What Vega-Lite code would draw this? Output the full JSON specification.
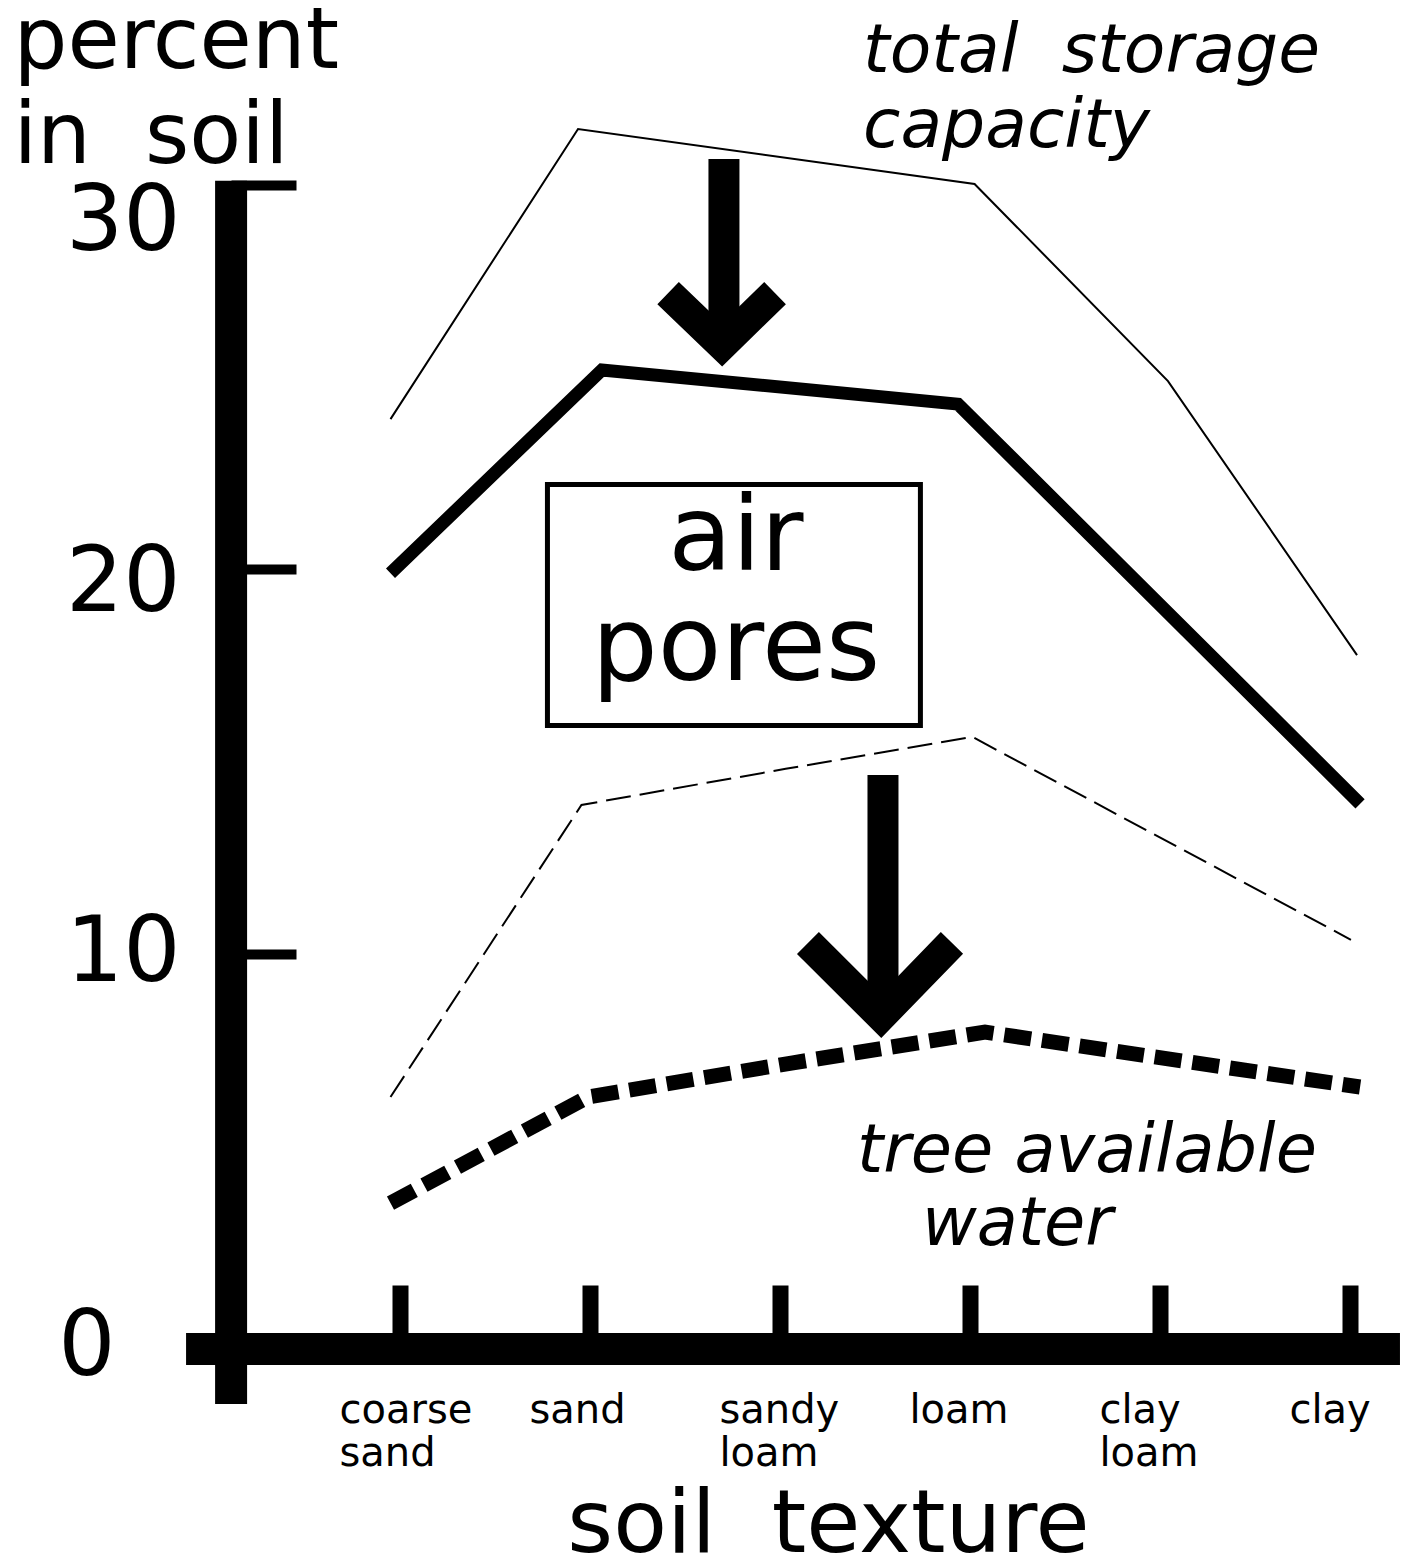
{
  "$schema": "https://vega.github.io/schema/vega-lite/v6.json",
  "width": 1410,
  "height": 1564,
  "autosize": "none",
  "padding": 0,
  "background": "white",
  "config": {"view": {"stroke": null}, "font": "DejaVu Sans"},
  "datasets": {
    "curves": [
      {"series": "total storage capacity", "x": 0.95, "y": 23.91},
      {"series": "total storage capacity", "x": 1.937, "y": 31.46},
      {"series": "total storage capacity", "x": 4.024, "y": 30.03},
      {"series": "total storage capacity", "x": 5.042, "y": 24.9},
      {"series": "total storage capacity", "x": 6.037, "y": 17.77},
      {"series": "air pores", "x": 0.95, "y": 19.9},
      {"series": "air pores", "x": 2.063, "y": 25.19},
      {"series": "air pores", "x": 3.937, "y": 24.3},
      {"series": "air pores", "x": 6.053, "y": 13.9},
      {"series": "field capacity", "x": 0.95, "y": 6.27},
      {"series": "field capacity", "x": 1.955, "y": 13.87},
      {"series": "field capacity", "x": 3.03, "y": 14.81},
      {"series": "field capacity", "x": 4.013, "y": 15.64},
      {"series": "field capacity", "x": 6.005, "y": 10.36},
      {"series": "tree available water", "x": 0.95, "y": 3.51},
      {"series": "tree available water", "x": 1.989, "y": 6.27},
      {"series": "tree available water", "x": 3.068, "y": 7.16},
      {"series": "tree available water", "x": 4.079, "y": 7.96},
      {"series": "tree available water", "x": 6.053, "y": 6.53}
    ],
    "arrows": [
      {"part": "a1s", "seq": 1, "x": 2.705, "y": 30.68},
      {"part": "a1s", "seq": 2, "x": 2.705, "y": 26.23},
      {"part": "a1h", "seq": 1, "x": 2.411, "y": 27.19},
      {"part": "a1h", "seq": 2, "x": 2.695, "y": 25.84},
      {"part": "a1h", "seq": 3, "x": 2.974, "y": 27.19},
      {"part": "a2s", "seq": 1, "x": 3.542, "y": 14.65},
      {"part": "a2s", "seq": 2, "x": 3.542, "y": 8.93},
      {"part": "a2h", "seq": 1, "x": 3.147, "y": 10.28},
      {"part": "a2h", "seq": 2, "x": 3.532, "y": 8.38},
      {"part": "a2h", "seq": 3, "x": 3.905, "y": 10.28}
    ],
    "yaxisline": [{"x": 0.111, "y": 30.11, "y2": -1.717}],
    "xaxisline": [{"x": -0.126, "x2": 6.263, "y": -0.286}],
    "box": [{"x": 1.776, "x2": 3.739, "y": 22.21, "y2": 15.94}],
    "airnote": [
      {"text": "air", "x": 2.768, "y": 19.98},
      {"text": "pores", "x": 2.768, "y": 17.12}
    ],
    "storagenote": [
      {"text": "total\u00a0 storage", "x": 3.437, "y": 32.94},
      {"text": "capacity", "x": 3.437, "y": 30.99}
    ],
    "waternote": [
      {"text": "tree available", "x": 3.405, "y": 4.32},
      {"text": "water", "x": 3.747, "y": 2.42}
    ]
  },
  "encoding": {
    "x": {
      "field": "x",
      "type": "quantitative",
      "scale": {"domain": [-1.1053, 6.3158], "nice": false, "zero": false},
      "axis": {
        "values": [1, 2, 3, 4, 5, 6],
        "offset": -226,
        "domain": false,
        "grid": false,
        "tickSize": -53,
        "tickWidth": 16,
        "tickColor": "black",
        "labelExpr": "datum.value == 1 ? ['coarse', 'sand'] : datum.value == 2 ? 'sand' : datum.value == 3 ? ['sandy', 'loam'] : datum.value == 4 ? 'loam' : datum.value == 5 ? ['clay', 'loam'] : 'clay'",
        "labelAlign": "left",
        "labelBaseline": "alphabetic",
        "labelOffset": -61,
        "labelPadding": 137,
        "labelFont": "DejaVu Sans",
        "labelFontSize": 40,
        "labelLineHeight": 43,
        "labelColor": "black",
        "labelOverlap": false,
        "labelFlush": false,
        "title": "soil\u00a0 texture",
        "titleX": 828,
        "titleY": 213,
        "titleAlign": "center",
        "titleAnchor": null,
        "titleBaseline": "alphabetic",
        "titleFont": "DejaVu Sans",
        "titleFontSize": 88,
        "titleFontWeight": "normal",
        "titleColor": "black"
      }
    },
    "y": {
      "field": "y",
      "type": "quantitative",
      "scale": {"domain": [-5.8816, 34.816], "nice": false, "zero": false},
      "axis": {
        "values": [0, 10, 20, 30],
        "offset": -231,
        "domain": false,
        "grid": false,
        "tickSize": -65,
        "tickWidth": 10,
        "tickColor": "black",
        "labelAlign": "right",
        "labelBaseline": "middle",
        "labelPadding": {"condition": {"test": "datum.value == 0", "value": 181}, "value": 116},
        "labelOffset": {"condition": [
          {"test": "datum.value == 30", "value": 37},
          {"test": "datum.value == 20", "value": 14},
          {"test": "datum.value == 0", "value": 10}
        ], "value": 0},
        "labelFont": "DejaVu Sans",
        "labelFontSize": 90,
        "labelColor": "black",
        "labelOverlap": false,
        "labelFlush": false,
        "title": ["percent", "in\u00a0 soil"],
        "titleAngle": 0,
        "titleAlign": "left",
        "titleAnchor": null,
        "titleBaseline": "alphabetic",
        "titleX": -218,
        "titleY": 67,
        "titleFont": "DejaVu Sans",
        "titleFontSize": 85,
        "titleFontWeight": "normal",
        "titleLineHeight": 95,
        "titleColor": "black"
      }
    }
  },
  "layer": [
    {
      "data": {"name": "yaxisline"},
      "mark": {"type": "rule", "color": "black", "strokeWidth": 32, "strokeCap": "butt"},
      "encoding": {"y2": {"field": "y2"}}
    },
    {
      "data": {"name": "xaxisline"},
      "mark": {"type": "rule", "color": "black", "strokeWidth": 32, "strokeCap": "butt"},
      "encoding": {"x2": {"field": "x2"}}
    },
    {
      "data": {"name": "curves"},
      "transform": [{"filter": "datum.series == 'total storage capacity'"}],
      "mark": {"type": "line", "color": "black", "strokeWidth": 2},
      "encoding": {}
    },
    {
      "data": {"name": "curves"},
      "transform": [{"filter": "datum.series == 'air pores'"}],
      "mark": {"type": "line", "color": "black", "strokeWidth": 13, "strokeJoin": "miter", "strokeCap": "butt"},
      "encoding": {}
    },
    {
      "data": {"name": "curves"},
      "transform": [{"filter": "datum.series == 'field capacity'"}],
      "mark": {"type": "line", "color": "black", "strokeWidth": 2, "strokeDash": [25, 9]},
      "encoding": {}
    },
    {
      "data": {"name": "curves"},
      "transform": [{"filter": "datum.series == 'tree available water'"}],
      "mark": {"type": "line", "color": "black", "strokeWidth": 15, "strokeDash": [27, 11], "strokeCap": "butt", "strokeJoin": "miter"},
      "encoding": {}
    },
    {
      "data": {"name": "arrows"},
      "mark": {"type": "line", "color": "black", "strokeWidth": 31, "strokeJoin": "miter", "strokeCap": "butt"},
      "encoding": {
        "detail": {"field": "part"},
        "order": {"field": "seq", "type": "quantitative"}
      }
    },
    {
      "data": {"name": "box"},
      "mark": {"type": "rect", "fill": "white", "stroke": "black", "strokeWidth": 5},
      "encoding": {"x2": {"field": "x2"}, "y2": {"field": "y2"}}
    },
    {
      "data": {"name": "airnote"},
      "mark": {"type": "text", "font": "DejaVu Sans", "fontSize": 104, "align": "center", "baseline": "alphabetic", "color": "black"},
      "encoding": {"text": {"field": "text"}}
    },
    {
      "data": {"name": "storagenote"},
      "mark": {"type": "text", "font": "DejaVu Sans", "fontSize": 68, "fontStyle": "italic", "align": "left", "baseline": "alphabetic", "color": "black"},
      "encoding": {"text": {"field": "text"}}
    },
    {
      "data": {"name": "waternote"},
      "mark": {"type": "text", "font": "DejaVu Sans", "fontSize": 67, "fontStyle": "italic", "align": "left", "baseline": "alphabetic", "color": "black"},
      "encoding": {"text": {"field": "text"}}
    }
  ]
}
